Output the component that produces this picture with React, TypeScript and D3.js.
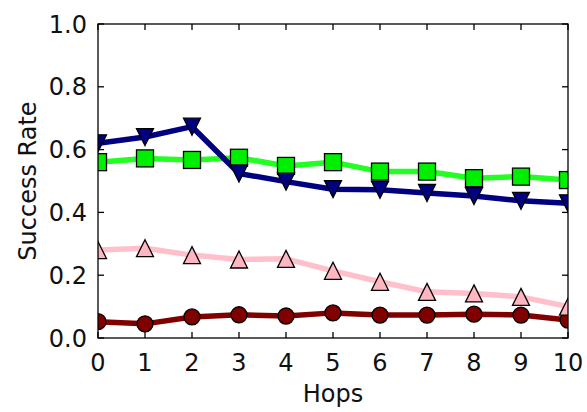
import React, { useEffect, useRef } from "react";
import * as d3 from "d3";

const hops = [0, 1, 2, 3, 4, 5, 6, 7, 8, 9, 10];
const navySeries = [0.62, 0.64, 0.673, 0.524, 0.498, 0.474, 0.472, 0.462, 0.452, 0.437, 0.429];
const greenSeries = [0.56, 0.572, 0.567, 0.574, 0.548, 0.56, 0.53, 0.53, 0.509, 0.514, 0.503];
const pinkSeries = [0.28, 0.286, 0.264, 0.25, 0.252, 0.214, 0.179, 0.147, 0.142, 0.131, 0.1];
const redSeries = [0.052, 0.045, 0.067, 0.074, 0.07, 0.08, 0.073, 0.073, 0.076, 0.073, 0.057];
const yTicks = [0, 0.2, 0.4, 0.6, 0.8, 1.0];

const W = 587;
const H = 412;
const margin = { top: 24, right: 19, bottom: 74, left: 98 };

function App() {
  const ref = useRef<SVGSVGElement>(null);

  useEffect(() => {
    const svg = d3.select(ref.current);
    svg.selectAll("*").remove();
    const width = W - margin.left - margin.right;
    const height = H - margin.top - margin.bottom;
    const font = "DejaVu Sans, sans-serif";
    const fs = 24;

    const x = d3.scaleLinear().domain([0, 10]).range([0, width]);
    const y = d3.scaleLinear().domain([0, 1]).range([height, 0]);

    const chart = svg.append("g").attr("transform", `translate(${margin.left}, ${margin.top})`);

    const defs = svg.append("defs");
    defs.append("clipPath").attr("id", "plotclip")
      .append("rect").attr("x", 0).attr("y", 0).attr("width", width).attr("height", height);

    const series = [
      { values: redSeries, line: "#800000", fill: "#800000", marker: "circle" },
      { values: pinkSeries, line: "#ffc0cb", fill: "#ffb6c1", marker: "up" },
      { values: greenSeries, line: "#22ff22", fill: "#00ee00", marker: "square" },
      { values: navySeries, line: "#000080", fill: "#000080", marker: "down" },
    ];

    const plot = chart.append("g").attr("clip-path", "url(#plotclip)");
    const line = d3.line<number>().x((_, i) => x(hops[i])).y((d) => y(d));

    series.forEach((s) => {
      plot.append("path")
        .datum(s.values)
        .attr("fill", "none")
        .attr("stroke", s.line)
        .attr("stroke-width", 5.5)
        .attr("stroke-linejoin", "round")
        .attr("d", line);
    });

    series.forEach((s) => {
      const g = plot.append("g");
      s.values.forEach((v, i) => {
        const cx = x(hops[i]);
        const cy = y(v);
        let el;
        if (s.marker === "circle") {
          el = g.append("circle").attr("cx", cx).attr("cy", cy).attr("r", 8);
        } else if (s.marker === "square") {
          el = g.append("rect").attr("x", cx - 8.5).attr("y", cy - 8.5).attr("width", 17).attr("height", 17);
        } else if (s.marker === "up") {
          const r = 8.5;
          el = g.append("path").attr("d", `M${cx},${cy - r} L${cx + r},${cy + r} L${cx - r},${cy + r} Z`);
        } else {
          const r = 8.5;
          el = g.append("path").attr("d", `M${cx},${cy + r} L${cx + r},${cy - r} L${cx - r},${cy - r} Z`);
        }
        el.attr("fill", s.fill).attr("stroke", "#000").attr("stroke-width", 1.3);
      });
    });

    // frame
    chart.append("rect")
      .attr("x", 0).attr("y", 0).attr("width", width).attr("height", height)
      .attr("fill", "none").attr("stroke", "#000").attr("stroke-width", 1.3);

    // ticks, pointing inward on all sides
    const tl = 6;
    hops.forEach((h) => {
      chart.append("line").attr("x1", x(h)).attr("x2", x(h)).attr("y1", height).attr("y2", height - tl)
        .attr("stroke", "#000").attr("stroke-width", 1.3);
      chart.append("line").attr("x1", x(h)).attr("x2", x(h)).attr("y1", 0).attr("y2", tl)
        .attr("stroke", "#000").attr("stroke-width", 1.3);
      chart.append("text").attr("x", x(h)).attr("y", height + 33)
        .attr("text-anchor", "middle").attr("font-family", font).attr("font-size", fs)
        .attr("fill", "#111").text(String(h));
    });
    yTicks.forEach((t) => {
      chart.append("line").attr("x1", 0).attr("x2", tl).attr("y1", y(t)).attr("y2", y(t))
        .attr("stroke", "#000").attr("stroke-width", 1.3);
      chart.append("line").attr("x1", width).attr("x2", width - tl).attr("y1", y(t)).attr("y2", y(t))
        .attr("stroke", "#000").attr("stroke-width", 1.3);
      chart.append("text").attr("x", -11).attr("y", y(t)).attr("dy", "0.36em")
        .attr("text-anchor", "end").attr("font-family", font).attr("font-size", fs)
        .attr("fill", "#111").text(t.toFixed(1));
    });

    chart.append("text")
      .attr("x", width / 2).attr("y", height + 64)
      .attr("text-anchor", "middle").attr("font-family", font).attr("font-size", fs)
      .attr("fill", "#111").text("Hops");

    svg.append("text")
      .attr("transform", `translate(36, ${margin.top + height / 2}) rotate(-90)`)
      .attr("text-anchor", "middle").attr("font-family", font).attr("font-size", fs)
      .attr("fill", "#111").text("Success Rate");
  }, []);

  return (
    <svg
      ref={ref}
      width={W}
      height={H}
      style={{ display: "block", position: "absolute", left: 0, top: 0, background: "#fff" }}
    />
  );
}

export default App;
